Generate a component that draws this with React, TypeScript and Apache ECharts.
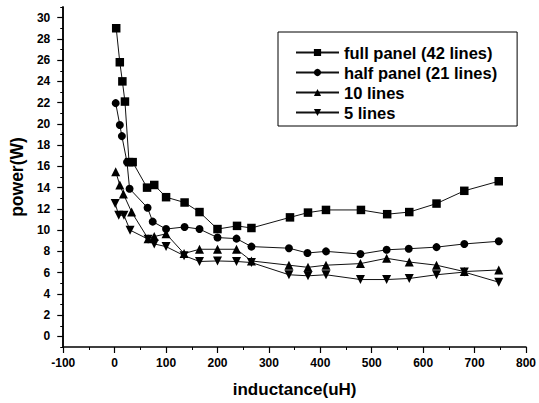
import React, { useEffect, useRef } from "react";
import * as echarts from "echarts";

const seriesNames = ["full panel (42 lines)", "half panel (21 lines)", "10 lines", "5 lines"];

const fullX = [3, 10, 15, 20, 28, 35, 63, 77, 100, 136, 165, 200, 238, 266, 341, 376, 411, 479, 530, 573, 626, 680, 747];
const fullY = [29.0, 25.8, 24.0, 22.1, 16.4, 16.4, 14.0, 14.25, 13.1, 12.6, 11.7, 10.1, 10.4, 10.2, 11.2, 11.65, 11.9, 11.9, 11.5, 11.7, 12.5, 13.7, 14.6];

const halfX = [2, 10, 14, 24, 29, 64, 74, 100, 136, 165, 200, 237, 266, 339, 375, 411, 478, 529, 572, 626, 680, 747];
const halfY = [21.95, 19.9, 18.85, 16.4, 13.9, 12.1, 10.8, 10.1, 10.3, 10.1, 9.3, 9.2, 8.45, 8.3, 7.85, 8.0, 7.75, 8.15, 8.25, 8.4, 8.7, 8.95];

const tenX = [2, 10, 17, 33, 65, 77, 100, 135, 165, 200, 237, 266, 339, 376, 411, 478, 529, 573, 626, 680, 747];
const tenY = [15.5, 14.25, 13.4, 11.7, 9.2, 9.4, 9.65, 7.8, 8.2, 8.2, 8.2, 7.1, 6.7, 6.5, 6.7, 6.85, 7.35, 7.0, 6.7, 6.1, 6.25];

const fiveX = [1, 8, 18, 30, 65, 77, 100, 135, 165, 200, 237, 266, 339, 376, 411, 478, 529, 573, 626, 680, 747];
const fiveY = [12.5, 11.4, 11.4, 10.0, 9.15, 8.7, 8.45, 7.6, 7.05, 7.1, 7.05, 6.95, 5.8, 5.7, 5.8, 5.35, 5.35, 5.45, 5.8, 6.05, 5.1];

const yMajorTicks = [0, 2, 4, 6, 8, 10, 12, 14, 16, 18, 20, 22, 24, 26, 28, 30];

const FONT = "'Liberation Sans', Arial, Helvetica, sans-serif";
const downTri = "path://M0,0 L10,0 L5,10 Z";

function zip(xs: number[], ys: number[]) {
  return xs.map((x, i) => [x, ys[i]]);
}

export default function App() {
  const ref = useRef<HTMLDivElement>(null);
  useEffect(() => {
    if (!ref.current) return;
    const chart = echarts.init(ref.current, undefined, { renderer: "svg" });
    const mk = (name: string, data: number[][], symbol: string, size: number) => ({
      name,
      type: "line",
      data,
      symbol,
      symbolSize: size,
      itemStyle: { color: "#000" },
      lineStyle: { color: "#111", width: 1 },
      emphasis: { disabled: true },
    });
    chart.setOption({
      animation: false,
      backgroundColor: "#fff",
      grid: { left: 57, right: 12, top: 7, bottom: 55, containLabel: false },
      legend: {
        orient: "vertical",
        left: 278,
        top: 32,
        padding: [12, 20, 5, 17],
        itemWidth: 43,
        itemHeight: 9,
        itemGap: 3,
        borderColor: "#000",
        borderWidth: 1,
        backgroundColor: "#fff",
        textStyle: { fontFamily: FONT, fontWeight: "bold", fontSize: 16.5, color: "#000" },
        data: seriesNames,
      },
      xAxis: {
        type: "value",
        min: -100,
        max: 800,
        interval: 100,
        name: "inductance(uH)",
        nameLocation: "middle",
        nameGap: 34,
        nameTextStyle: { fontFamily: FONT, fontWeight: "bold", fontSize: 17, color: "#000" },
        axisLine: { show: true, onZero: false, lineStyle: { color: "#000", width: 1.5 } },
        axisTick: { show: true, length: 6, lineStyle: { color: "#000", width: 1.2 } },
        minorTick: { show: true, splitNumber: 2, length: 3, lineStyle: { color: "#000", width: 1 } },
        splitLine: { show: false },
        axisLabel: { fontFamily: FONT, fontWeight: "bold", fontSize: 12, color: "#000", margin: 10 },
      },
      yAxis: [
        {
          type: "value",
          min: -1,
          max: 31,
          interval: 1,
          position: "left",
          name: "power(W)",
          nameLocation: "middle",
          nameGap: 35,
          nameTextStyle: { fontFamily: FONT, fontWeight: "bold", fontSize: 17.5, color: "#000" },
          axisLine: { show: true, onZero: false, lineStyle: { color: "#000", width: 1.5 } },
          axisTick: { show: true, length: 3, lineStyle: { color: "#000", width: 1 } },
          splitLine: { show: false },
          axisLabel: {
            fontFamily: FONT,
            fontWeight: "bold",
            fontSize: 12,
            color: "#000",
            margin: 13,
            customValues: yMajorTicks,
          },
        },
        {
          type: "value",
          min: -1,
          max: 31,
          position: "left",
          offset: 0,
          axisLine: { show: true, onZero: false, lineStyle: { color: "#000", width: 1.5 } },
          axisTick: { show: true, length: 6, customValues: yMajorTicks, lineStyle: { color: "#000", width: 1.2 } },
          axisLabel: { show: false },
          splitLine: { show: false },
        },
      ],
      series: [
        mk(seriesNames[0], zip(fullX, fullY), "rect", 8.5),
        mk(seriesNames[1], zip(halfX, halfY), "circle", 8),
        mk(seriesNames[2], zip(tenX, tenY), "triangle", 9),
        mk(seriesNames[3], zip(fiveX, fiveY), downTri, 9),
      ],
    });
    return () => chart.dispose();
  }, []);
  return (
    <div
      ref={ref}
      style={{ position: "fixed", left: 0, top: 0, width: 539, height: 403, background: "#fff" }}
    />
  );
}
